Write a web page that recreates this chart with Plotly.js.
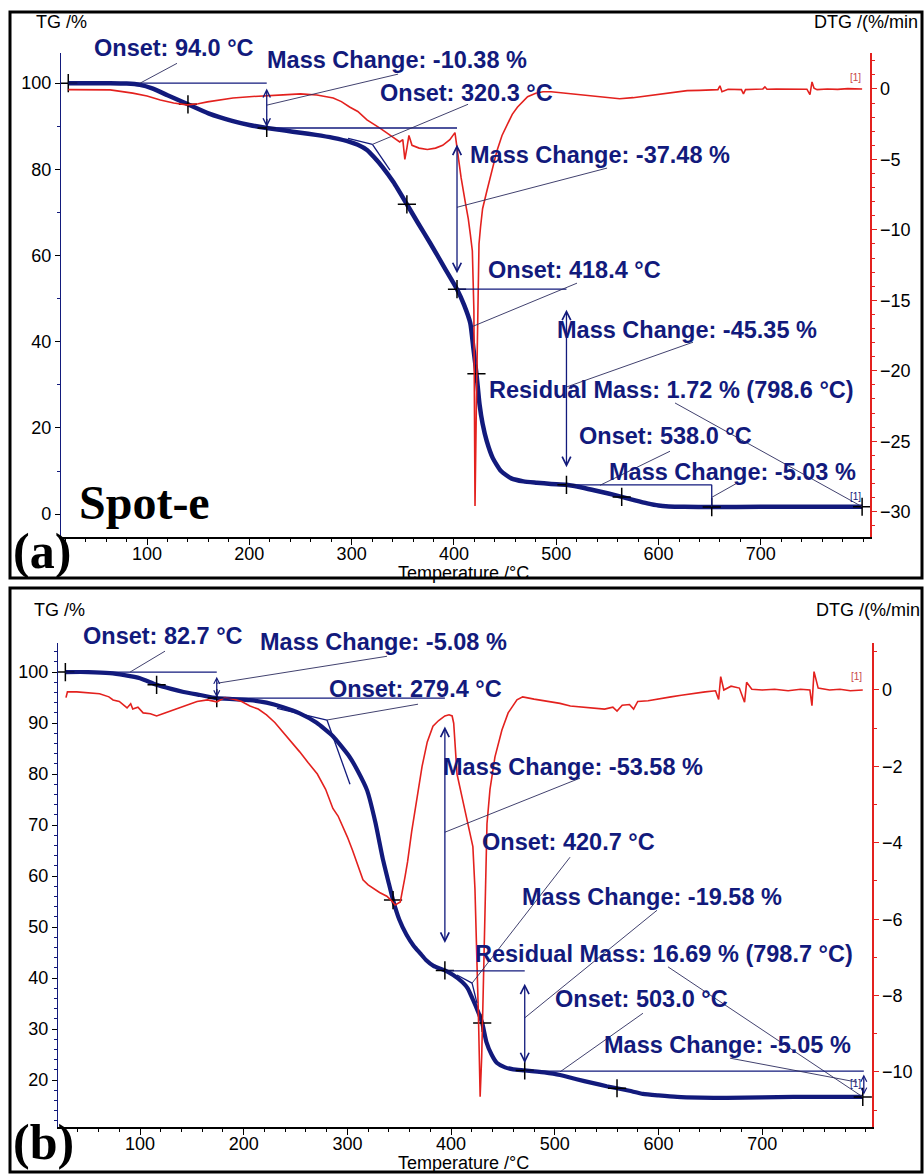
<!DOCTYPE html>
<html><head><meta charset="utf-8">
<script src="https://cdn.plot.ly/plotly-3.0.1.min.js"></script>
<style>html,body{margin:0;padding:0;background:#fff;}#chart{width:924px;height:1174px;}</style>
</head><body><div id="chart"></div>
<script>
// ---------------- DATA ----------------
// Panel (a): Spot-e, TG (%) and DTG (%/min) vs temperature (°C)
const tgA_T = [23,45,64,80,93,105,120,140,160,184,
  200,217,235,250,265,282,298,306,315,322,
  330,341,354,365,377,390,403,410,416,419,
  422,425,428,432,438,446,456,468,481,495,
  510,525,538,551,564,577,589,600,610,625,
  652,700,750,799];
const tgA = [100,100,100,99.9,99.6,98.8,97.2,95.1,93.0,91.2,
  90.3,89.6,89.0,88.5,88.0,87.3,86.4,85.7,84.5,82.8,
  80.6,77.0,71.9,67.5,62.8,57.5,52.2,48.5,44.3,38.5,
  32.6,25.5,21.0,17.0,13.0,10.0,8.3,7.6,7.3,7.0,
  6.8,6.2,5.5,4.8,4.0,3.2,2.5,2.0,1.8,1.7,
  1.65,1.7,1.72,1.72];
const dtgA_T = [23,45,64,86,100,113,126,139,150,159,
  172,184,200,217,233,250,266,282,290,298,
  306,315,322,328,334,338,343,347,350,352,
  354,356,359,366,374,382,389,396,401,404,
  407,411,414,416,418,419.5,420.6,422,423.6,424.5,
  426,428,432,437,442,447,452,457,462,467,
  472,480,487,495,504,520,536,550,562,575,
  589,605,615,628,640,650,658,660,662,668,
  675,681,683,685,695,702,704,706,715,725,
  735,745,748,750,752,755,765,775,785,799];
const dtgA = [-0.05,-0.05,-0.07,-0.3,-0.5,-0.78,-1.0,-1.13,-1.05,-0.92,
  -0.78,-0.64,-0.55,-0.5,-0.42,-0.35,-0.43,-0.64,-0.9,-1.28,
  -1.6,-2.2,-2.5,-2.8,-3.1,-3.3,-3.5,-3.76,-3.6,-5.0,
  -4.2,-3.3,-4.0,-4.2,-4.3,-4.2,-4.0,-3.6,-3.1,-4.8,
  -6.3,-8.0,-9.2,-10.3,-11.5,-15.7,-29.6,-22,-16.5,-11,
  -9.8,-8.5,-7.3,-5.8,-4.4,-3.3,-2.5,-1.8,-1.3,-0.9,
  -0.55,-0.3,-0.2,-0.2,-0.27,-0.4,-0.55,-0.62,-0.7,-0.62,
  -0.5,-0.35,-0.25,-0.12,-0.1,-0.05,-0.05,0.22,-0.2,-0.02,
  -0.05,-0.05,-0.35,-0.05,-0.02,0.0,0.15,-0.02,0.0,-0.02,
  0.0,-0.02,-0.4,0.5,0.05,-0.05,0.0,-0.03,0.02,0.0];
const markA_T = [23,140,217,354,403,422,510,564,652,799];
const markA_TG = [100,95.1,89.6,71.9,52.2,32.6,6.8,4.0,1.65,1.72];
const onsetA = [94.0,320.3,418.4,538.0];
const massChangeA = [-10.38,-37.48,-45.35,-5.03];
const residualA = [1.72,798.6];

// Panel (b)
const tgB_T = [28,50,71,85,100,116,130,142,158,174,
  190,206,222,238,254,270,286,302,310,319,
  327,334,340,344,350,357,364,370,376,383,
  394,402,411,416,421,426,430,434,439,444,
  452,460,471,490,505,520,537,550,560,572,
  585,600,618,640,666,700,730,760,797];
const tgB = [100,100,99.8,99.4,98.8,97.5,96.7,96.1,95.5,94.9,
  94.7,94.5,94.0,93.1,91.9,90.1,87.4,83.4,80.6,76.8,
  70.5,63.5,58.5,55.3,51.5,48.5,46.3,44.9,43.5,42.4,
  41.5,40.6,39.2,38.0,35.8,33.4,31.2,27.5,25.0,23.4,
  22.5,22.1,21.9,21.5,21.0,20.2,19.4,18.8,18.4,17.9,
  17.3,17.0,16.7,16.55,16.5,16.6,16.7,16.7,16.69];
const dtgB_T = [28.6,30,39,50,61,70,74,80,87.5,91,
  93,98,103,110,116,124,132,140,145,155,
  165,174,182,190,198,206,214,222,230,238,
  246,254,262,271,279,286,291,296,300,305,
  310,315,320,325,331,338,342,346,351,355.5,
  358,362,368,372,377,382.5,388,394,398,401,
  402.5,405.7,410.5,415.3,419,421,423,425,426.5,428,
  429.5,431,433,434.6,437.5,442.3,449,455,463.5,469,
  480,495,505,515,525,537,548,556,560,565,
  572,576,580,590,601,612,622,633,645,655,
  658,660,663,670,678,683,685,690,700,712,
  725,737,746,748,750,754,765,775,785,797];
const dtgB = [-0.2,-0.05,-0.05,-0.08,-0.1,-0.18,-0.26,-0.3,-0.47,-0.36,
  -0.5,-0.45,-0.6,-0.62,-0.68,-0.6,-0.52,-0.45,-0.39,-0.3,
  -0.26,-0.31,-0.2,-0.24,-0.3,-0.42,-0.5,-0.65,-0.85,-1.1,
  -1.35,-1.62,-1.9,-2.2,-2.6,-3.1,-3.3,-3.6,-3.85,-4.2,
  -4.6,-4.97,-5.1,-5.2,-5.3,-5.4,-5.5,-5.63,-5.55,-4.9,
  -4.5,-3.7,-2.67,-2.0,-1.36,-0.95,-0.8,-0.68,-0.65,-0.68,
  -0.87,-2.2,-2.8,-3.4,-3.8,-4.1,-5.2,-7.0,-8.7,-10.65,
  -9.6,-7.85,-5.2,-3.5,-2.6,-1.75,-1.05,-0.6,-0.26,-0.18,
  -0.24,-0.3,-0.35,-0.42,-0.45,-0.48,-0.5,-0.45,-0.55,-0.4,
  -0.38,-0.5,-0.3,-0.28,-0.22,-0.18,-0.14,-0.09,-0.05,-0.02,
  -0.25,0.35,0.0,0.1,0.05,-0.32,0.2,0.02,0.0,0.02,
  -0.02,0.02,0.0,-0.41,0.48,0.05,0.0,0.02,-0.02,0.0];
const markB_T = [28,116,174,344,394,430,471,560,797];
const markB_TG = [100,97.5,94.9,55.3,41.5,31.2,21.9,18.4,16.69];
const onsetB = [82.7,279.4,420.7,503.0];
const massChangeB = [-5.08,-53.58,-19.58,-5.05];
const residualB = [16.69,798.7];

// ---------------- STYLE / LAYOUT ----------------
const W = 924, H = 1174;
const P = x => x / W, Q = y => 1 - y / H;
const navy = '#121a7c', red = '#e3211e', lead = '#2b2b5e';
const sans = 'Liberation Sans, Arial, sans-serif';
const serif = 'Liberation Serif, Times New Roman, serif';
const tickFont = {family: sans, size: 18, color: '#000'};

const onsetTxt = v => '<b>Onset: ' + v.toFixed(1) + ' °C</b>';
const mcTxt = v => '<b>Mass Change: ' + v.toFixed(2) + ' %</b>';
const resTxt = r => '<b>Residual Mass: ' + r[0].toFixed(2) + ' % (' + r[1].toFixed(1) + ' °C)</b>';

function range(a, b, s) { const o = []; for (let v = a; v <= b + 1e-9; v += s) o.push(v); return o; }

function xAxis(dom, rng, anchor) {
  return {domain: dom, range: rng, anchor: anchor, showline: true, linecolor: '#000', linewidth: 2,
    ticks: 'outside', ticklen: 6, tickwidth: 1, tickcolor: '#000', ticklabelstandoff: -7,
    tickmode: 'array', tickvals: range(100, 700, 100), tickfont: tickFont,
    minor: {tickmode: 'array', tickvals: range(20, 800, 20), ticks: 'outside', ticklen: 3, tickcolor: '#000', showgrid: false},
    showgrid: false, zeroline: false, fixedrange: true};
}
function tgAxis(dom, rng, anchor, dt, mdt) {
  return {domain: dom, range: rng, anchor: anchor, showline: true, linecolor: navy, linewidth: 1.2,
    ticks: 'outside', ticklen: 5, tickwidth: 1, tickcolor: '#000', dtick: dt, tick0: 0,
    minor: {dtick: mdt, tick0: 0, ticks: 'outside', ticklen: 3, tickcolor: navy, showgrid: false},
    tickfont: tickFont, showgrid: false, zeroline: false, fixedrange: true};
}
function dtgAxis(over, rng, anchor, dt, mdt) {
  return {overlaying: over, side: 'right', range: rng, anchor: anchor, showline: true, linecolor: red, linewidth: 1.5,
    ticks: 'outside', ticklen: 5, tickwidth: 1, tickcolor: red, dtick: dt, tick0: 0,
    minor: {dtick: mdt, tick0: 0, ticks: 'outside', ticklen: 3, tickcolor: red, showgrid: false},
    tickfont: tickFont, showgrid: false, zeroline: false, fixedrange: true};
}

const traces = [
  {x: tgA_T, y: tgA, xaxis: 'x', yaxis: 'y', mode: 'lines', line: {color: navy, width: 4.5, shape: 'spline', smoothing: 0.5}},
  {x: markA_T, y: markA_TG, xaxis: 'x', yaxis: 'y', mode: 'markers', marker: {symbol: 'cross-thin', size: 13, line: {color: '#000', width: 1.5}}},
  {x: dtgA_T, y: dtgA, xaxis: 'x', yaxis: 'y2', mode: 'lines', line: {color: red, width: 1.6}},
  {x: tgB_T, y: tgB, xaxis: 'x2', yaxis: 'y3', mode: 'lines', line: {color: navy, width: 4.2, shape: 'spline', smoothing: 0.5}},
  {x: markB_T, y: markB_TG, xaxis: 'x2', yaxis: 'y3', mode: 'markers', marker: {symbol: 'cross-thin', size: 13, line: {color: '#000', width: 1.5}}},
  {x: dtgB_T, y: dtgB, xaxis: 'x2', yaxis: 'y4', mode: 'lines', line: {color: red, width: 1.6}}
];

// construction / leader lines in data units [T0, v0, T1, v1, kind]
const segA = [
  [23,100,217,100,'b'],[93.2,100,129.3,104.6,'l'],[217,94.9,345.4,102.1,'l'],
  [217,89.6,403,89.6,'b'],[296.5,87.2,320.3,85.8,'b'],[320.3,85.8,337.5,79.8,'b'],
  [320.3,85.8,413.8,95.1,'l'],[403,71.2,549.7,80.3,'l'],[403,52.2,510,52.2,'b'],
  [418.7,43.6,520.3,53.6,'l'],[510,29.5,633.7,39.9,'l'],[616.1,25.8,799,1.72,'l'],
  [510,6.8,652,6.8,'b'],[652,6.8,652,1.7,'b'],[542.8,6.7,611.2,14.6,'l'],[652,3.9,676.7,7.2,'l']
];
const segB = [
  [28,100,174,100,'b'],[90.4,100,124.1,104.1,'l'],[174,97.8,338.2,103.1,'l'],
  [174,94.9,394,94.9,'b'],[232.1,92.9,280.3,90.6,'b'],[280.3,90.6,302.5,78,'b'],
  [280.3,90.6,368.1,93.7,'l'],[394,68.6,524.3,79.2,'l'],[394,41.4,471,41.4,'b'],
  [405.7,40.6,420.2,39.0,'b'],[420.2,39.0,425,35.1,'b'],[420.2,39.0,514.7,63.7,'l'],
  [471,32.2,598.6,53.3,'l'],[609.2,42.2,797,16.69,'l'],[505,21.6,585,33.1,'l'],
  [471,21.76,798,21.76,'b'],[669,24.3,791.4,19.6,'l']
];
// [T, top, bottom, head size]
const arrowsA = [[217,99.1,89.8,1.1],[403,86.1,55.9,1.3],[510,47.8,10.9,1.3]];
const arrowsB = [[174,99.4,95.0,0.9],[394,89.6,46.9,1.3],[471,39.2,23.3,1.3],[798,21.4,17.1,0.9]];

const shapes = [
  {type: 'rect', xref: 'paper', yref: 'paper', x0: P(10), x1: P(922), y0: Q(578), y1: Q(12), line: {color: '#000', width: 3}},
  {type: 'rect', xref: 'paper', yref: 'paper', x0: P(10), x1: P(922), y0: Q(1172), y1: Q(588), line: {color: '#000', width: 3}}
];
function addSegs(list, xr, yr) {
  list.forEach(s => shapes.push({type: 'line', xref: xr, yref: yr, x0: s[0], y0: s[1], x1: s[2], y1: s[3],
    line: {color: s[4] === 'b' ? navy : lead, width: s[4] === 'b' ? 1.3 : 0.9}}));
}
addSegs(segA, 'x', 'y');
addSegs(segB, 'x2', 'y3');

const ann = [];
function addArrows(list, xr, yr) {
  list.forEach(a => ann.push({xref: xr, yref: yr, axref: xr, ayref: yr, x: a[0], y: a[2], ax: a[0], ay: a[1],
    text: '', showarrow: true, arrowside: 'end+start', arrowhead: 5, startarrowhead: 5, arrowsize: a[3], startarrowsize: a[3],
    arrowwidth: 1.3, arrowcolor: navy, standoff: 0, startstandoff: 0}));
}
addArrows(arrowsA, 'x', 'y');
addArrows(arrowsB, 'x2', 'y3');

function txt(x, y, t, font, anchor) {
  ann.push({xref: 'paper', yref: 'paper', x: P(x), y: Q(y), text: t, showarrow: false,
    xanchor: anchor || 'left', yanchor: 'middle', font: font, borderpad: 0});
}
const boldNavy = {family: sans, size: 23.5, color: navy};
// panel (a) labels
txt(93, 48, onsetTxt(onsetA[0]), boldNavy);
txt(266, 60, mcTxt(massChangeA[0]), boldNavy);
txt(379, 92.5, onsetTxt(onsetA[1]), boldNavy);
txt(469, 155, mcTxt(massChangeA[1]), boldNavy);
txt(487, 270, onsetTxt(onsetA[2]), boldNavy);
txt(556, 330, mcTxt(massChangeA[2]), boldNavy);
txt(488, 390, resTxt(residualA), boldNavy);
txt(578, 436.5, onsetTxt(onsetA[3]), boldNavy);
txt(608, 472.5, mcTxt(massChangeA[3]), boldNavy);
// panel (b) labels
txt(82, 636, onsetTxt(onsetB[0]), boldNavy);
txt(259, 641.5, mcTxt(massChangeB[0]), boldNavy);
txt(328, 689, onsetTxt(onsetB[1]), boldNavy);
txt(442, 767, mcTxt(massChangeB[1]), boldNavy);
txt(481, 841.5, onsetTxt(onsetB[2]), boldNavy);
txt(521, 897, mcTxt(massChangeB[2]), boldNavy);
txt(474, 953.5, resTxt(residualB), boldNavy);
txt(554, 998.5, onsetTxt(onsetB[3]), boldNavy);
txt(603, 1044.5, mcTxt(massChangeB[3]), boldNavy);
// axis titles
const axF = {family: sans, size: 18, color: '#000'};
txt(35, 22, 'TG /%', axF);
txt(813, 22, 'DTG /(%/min', axF);
txt(397, 573, 'Temperature /°C', axF);
txt(33, 610, 'TG /%', axF);
txt(815, 610, 'DTG /(%/min', axF);
txt(397, 1163, 'Temperature /°C', axF);
// small curve tags
const tagR = {family: sans, size: 10, color: '#c84848'}, tagB = {family: sans, size: 10, color: navy};
txt(849, 77, '[1]', tagR); txt(849, 496, '[1]', tagB);
txt(850, 677, '[1]', tagR); txt(849, 1083, '[1]', tagB);
// panel tags
txt(78, 502, '<b>Spot-e</b>', {family: serif, size: 48, color: '#000'});
txt(12, 551, '<b>(a)</b>', {family: serif, size: 50, color: '#000'});
txt(12, 1142, '<b>(b)</b>', {family: serif, size: 50, color: '#000'});

const layout = {
  width: W, height: H, margin: {l: 0, r: 0, t: 0, b: 0},
  paper_bgcolor: '#fff', plot_bgcolor: 'rgba(0,0,0,0)', showlegend: false,
  xaxis: xAxis([P(61), P(870)], [15.9, 806.7], 'y'),
  yaxis: tgAxis([Q(537), Q(53)], [-5.3, 107], 'x', 20, 10),
  yaxis2: dtgAxis('y', [-31.8, 2.55], 'x', 5, 1),
  xaxis2: xAxis([P(58), P(872)], [20.9, 805.9], 'y3'),
  yaxis3: tgAxis([Q(1127), Q(643)], [10.8, 105.7], 'x2', 10, 2),
  yaxis4: dtgAxis('y3', [-11.44, 1.23], 'x2', 2, 1),
  shapes: shapes, annotations: ann
};
Plotly.newPlot('chart', traces, layout, {staticPlot: true, displayModeBar: false});
</script></body></html>
